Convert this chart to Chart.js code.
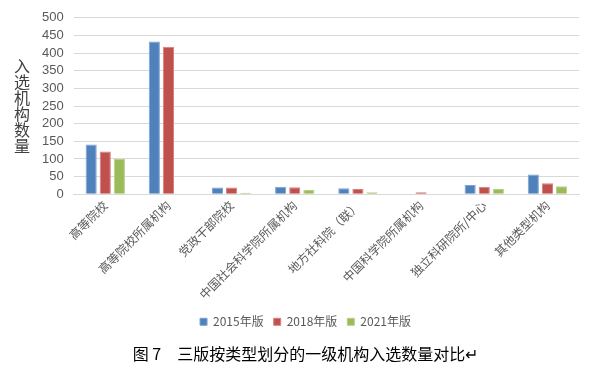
<!DOCTYPE html>
<html lang="zh">
<head>
<meta charset="UTF-8">
<title>三版按类型划分的一级机构入选数量对比</title>
<script src="https://cdn.jsdelivr.net/npm/chart.js@4.4.0/dist/chart.umd.min.js"></script>
<style>
  body { margin: 0; background: #fff; }
  #wrap { position: relative; width: 595px; height: 375px; }
  #ytitle {
    position: absolute; left: 13px; top: 58px;
    writing-mode: vertical-rl; font-family: "Noto Sans CJK SC"; font-size: 16px;
    line-height: 18px; color: #404040;
  }
</style>
</head>
<body>
<div id="wrap">
  <canvas id="chart" width="595" height="375"></canvas>
  <div id="ytitle">入选机构数量</div>
</div>
<script>
// categories and values
const categories = ['高等院校', '高等院校所属机构', '党政干部院校', '中国社会科学院所属机构',
                    '地方社科院（联）', '中国科学院所属机构', '独立科研院所/中心', '其他类型机构'];
const v2015 = [141, 433, 19, 21, 17, 0, 26, 56];
const v2018 = [121, 418, 19, 20, 15, 6, 21, 31];
const v2021 = [100, 0, 4, 12, 6, 0, 15, 23];
const seriesNames = ['2015年版', '2018年版', '2021年版'];
const yStep = 50, yMax = 500;

const ctx = document.getElementById('chart').getContext('2d');
new Chart(ctx, {
  type: 'bar',
  data: {
    labels: categories,
    datasets: [
      { label: seriesNames[0], data: v2015, backgroundColor: '#4f81bd', borderColor: '#7da2d3', borderWidth: 1 },
      { label: seriesNames[1], data: v2018, backgroundColor: '#c0504d', borderColor: '#d6807e', borderWidth: 1 },
      { label: seriesNames[2], data: v2021, backgroundColor: '#9bbb59', borderColor: '#b8d08a', borderWidth: 1 }
    ]
  },
  options: {
    responsive: false,
    animation: false,
    layout: { padding: { left: 32, right: 16, top: 8, bottom: 0 } },
    datasets: { bar: { categoryPercentage: 0.67, barPercentage: 0.79 } },
    scales: {
      x: {
        grid: { display: false, drawTicks: false },
        border: { color: '#d9d9d9' },
        ticks: {
          minRotation: 45, maxRotation: 45, autoSkip: false, padding: 4,
          color: '#595959', font: { family: 'Noto Sans CJK SC', size: 12 }
        }
      },
      y: {
        min: 0, max: yMax,
        grid: { color: '#d9d9d9', drawTicks: false },
        border: { display: false },
        ticks: {
          stepSize: yStep, autoSkip: false, padding: 10,
          color: '#595959', font: { family: 'Liberation Sans', size: 13 }
        }
      }
    },
    plugins: {
      legend: {
        position: 'bottom',
        labels: {
          boxWidth: 7, boxHeight: 7, padding: 10,
          color: '#595959', font: { family: 'Noto Sans CJK SC', size: 12 }
        }
      },
      title: {
        display: true, position: 'bottom',
        text: '图 7　三版按类型划分的一级机构入选数量对比↵',
        color: '#000', font: { family: 'Noto Sans CJK SC', size: 16, weight: 'normal' },
        padding: { top: 7, bottom: 11 }
      },
      tooltip: { enabled: false }
    }
  }
});
</script>
</body>
</html>
